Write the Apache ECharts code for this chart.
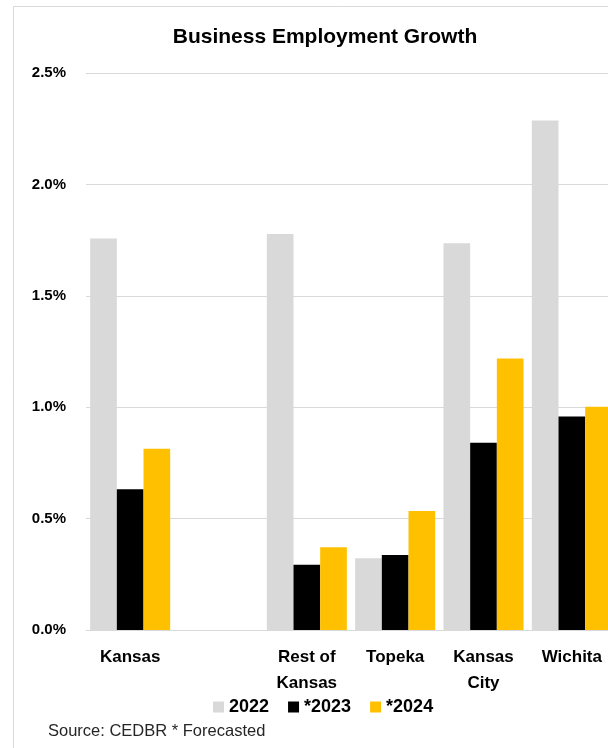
<!DOCTYPE html>
<html>
<head>
<meta charset="utf-8">
<script src="https://cdn.jsdelivr.net/npm/echarts@6/dist/echarts.min.js"></script>
<style>
html,body{margin:0;padding:0;background:#fff;overflow:hidden;width:608px;height:748px;}
#chart{width:660px;height:748px;}
</style>
</head>
<body>
<div id="chart"></div>
<script>
const categories = ['Kansas', '', 'Rest of\nKansas', 'Topeka', 'Kansas\nCity', 'Wichita'];
const seriesNames = ['2022', '*2023', '*2024'];
const values2022 = [1.757, '-', 1.777, 0.322, 1.736, 2.287];
const values2023 = [0.632, '-', 0.293, 0.337, 0.841, 0.958];
const values2024 = [0.813, '-', 0.371, 0.534, 1.219, 1.002];
const yTicks = { min: 0, max: 2.5, interval: 0.5 };
const colors = ['#d9d9d9', '#000000', '#ffc000'];

const FONT = '"Liberation Sans", Arial, sans-serif';
const chart = echarts.init(document.getElementById('chart'), null, { renderer: 'canvas' });
const data = [values2022, values2023, values2024];

chart.setOption({
  animation: false,
  backgroundColor: '#ffffff',
  title: {
    text: 'Business Employment Growth',
    left: 320,
    top: 22,
    textAlign: 'center',
    textStyle: { fontFamily: FONT, fontWeight: 'bold', fontSize: 21, color: '#000' }
  },
  legend: {
    data: seriesNames,
    left: 213,
    top: 698,
    padding: 0,
    itemWidth: 11,
    itemHeight: 11,
    itemGap: 19,
    icon: 'rect',
    textStyle: { fontFamily: FONT, fontWeight: 'bold', fontSize: 18, color: '#000' }
  },
  grid: { left: 86, top: 73, width: 530, height: 557, containLabel: false },
  xAxis: {
    type: 'category',
    data: categories,
    axisLine: { show: true, lineStyle: { color: '#d9d9d9', width: 1 } },
    axisTick: { show: false },
    axisLabel: {
      interval: 0,
      margin: 14,
      fontFamily: FONT, fontWeight: 'bold', fontSize: 17, color: '#000',
      lineHeight: 26
    }
  },
  yAxis: {
    type: 'value',
    min: yTicks.min, max: yTicks.max, interval: yTicks.interval,
    axisLine: { show: false },
    axisTick: { show: false },
    splitLine: { lineStyle: { color: '#d9d9d9', width: 1 } },
    axisLabel: {
      margin: 20,
      fontFamily: FONT, fontWeight: 'bold', fontSize: 15, color: '#000',
      formatter: v => v.toFixed(1) + '%'
    }
  },
  series: seriesNames.map((name, i) => ({
    name: name,
    type: 'bar',
    data: data[i],
    itemStyle: { color: colors[i] },
    barGap: '0%',
    barCategoryGap: '9.4%'
  })),
  graphic: [
    {
      type: 'rect',
      shape: { x: 13.5, y: 6.5, width: 800, height: 900 },
      style: { fill: 'none', stroke: '#d9d9d9', lineWidth: 1 },
      silent: true
    },
    {
      type: 'text',
      left: 48,
      top: 723,
      style: { text: 'Source: CEDBR * Forecasted', font: '16.5px ' + FONT, fill: '#262626' }
    }
  ]
});
</script>
</body>
</html>
